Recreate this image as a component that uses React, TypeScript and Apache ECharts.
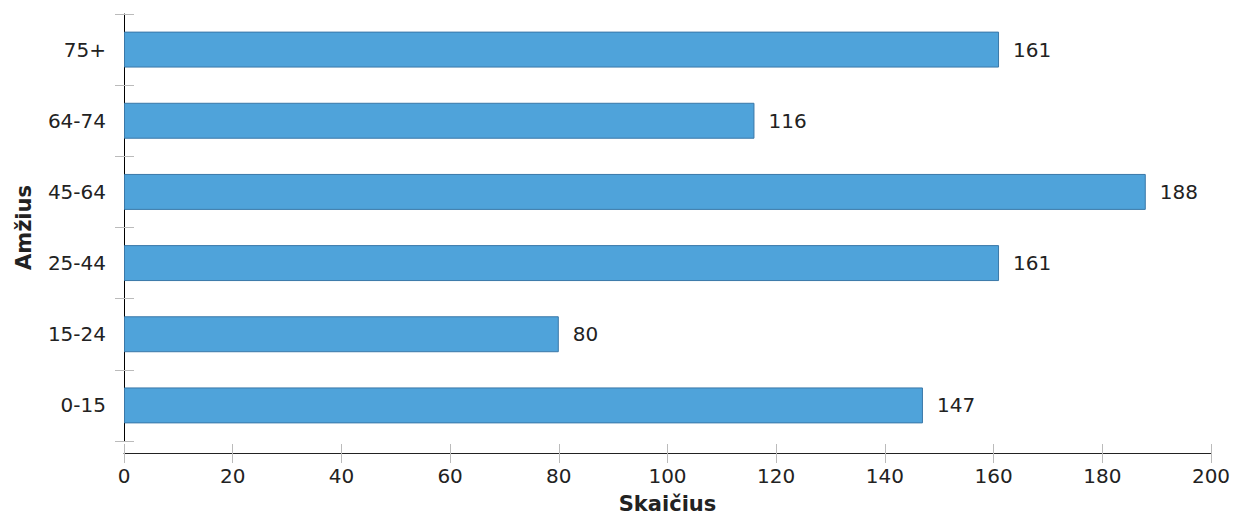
import React, { useEffect, useRef } from "react";
import * as echarts from "echarts";

const categories = ["0-15", "15-24", "25-44", "45-64", "64-74", "75+"];
const values = [147, 80, 161, 188, 116, 161];
const xTicks = { min: 0, max: 200, interval: 20 };
const xTitle = "Skaičius";
const yTitle = "Amžius";

const FONT = "DejaVu Sans";

export default function App() {
  const ref = useRef<HTMLDivElement>(null);
  useEffect(() => {
    if (!ref.current) return;
    const chart = echarts.init(ref.current, null, { renderer: "svg" });
    chart.setOption({
      animation: false,
      textStyle: { fontFamily: FONT },
      grid: {
        left: 124,
        right: 37,
        top: 14,
        bottom: 74,
        containLabel: false,
        outerBoundsMode: "none",
      },
      xAxis: [
        {
          type: "value",
          min: xTicks.min,
          max: xTicks.max,
          interval: xTicks.interval,
          offset: 12,
          name: xTitle,
          nameLocation: "middle",
          nameGap: 40,
          nameTextStyle: { fontFamily: FONT, fontSize: 21, fontWeight: "bold", color: "#222" },
          axisLine: { show: true, lineStyle: { color: "#222", width: 1 } },
          axisTick: { show: true, length: 10, lineStyle: { color: "#bbb" } },
          axisLabel: { fontFamily: FONT, fontSize: 20, color: "#222", margin: 13 },
          splitLine: { show: false },
        },
        {
          type: "value",
          min: xTicks.min,
          max: xTicks.max,
          interval: xTicks.interval,
          offset: 12,
          position: "bottom",
          axisLine: { show: false },
          axisTick: { show: true, inside: true, length: 9, lineStyle: { color: "#bbb" } },
          axisLabel: { show: false },
          splitLine: { show: false },
        },
      ],
      yAxis: [
        {
          type: "category",
          data: categories,
          name: yTitle,
          nameLocation: "middle",
          nameGap: 90,
          nameRotate: 90,
          nameTextStyle: { fontFamily: FONT, fontSize: 21, fontWeight: "bold", color: "#222" },
          axisLine: { show: true, lineStyle: { color: "#000", width: 1 } },
          axisTick: { show: true, length: 9, lineStyle: { color: "#bbb" } },
          axisLabel: { fontFamily: FONT, fontSize: 20, color: "#222", margin: 18 },
          splitLine: { show: false },
        },
        {
          type: "category",
          data: categories,
          position: "left",
          axisLine: { show: false },
          axisTick: { show: true, inside: true, length: 10, lineStyle: { color: "#bbb" } },
          axisLabel: { show: false },
          splitLine: { show: false },
        },
      ],
      series: [
        {
          type: "bar",
          data: values,
          xAxisIndex: 0,
          yAxisIndex: 0,
          barWidth: "50.5%",
          itemStyle: { color: "#4fa3da", borderColor: "#3a78a8", borderWidth: 1 },
          label: {
            show: true,
            position: "right",
            distance: 14,
            fontFamily: FONT,
            fontSize: 20,
            color: "#222",
          },
        },
      ],
    });
    return () => chart.dispose();
  }, []);
  return (
    <div
      ref={ref}
      style={{ position: "fixed", left: 0, top: 0, width: 1248, height: 515, background: "#fff" }}
    />
  );
}
